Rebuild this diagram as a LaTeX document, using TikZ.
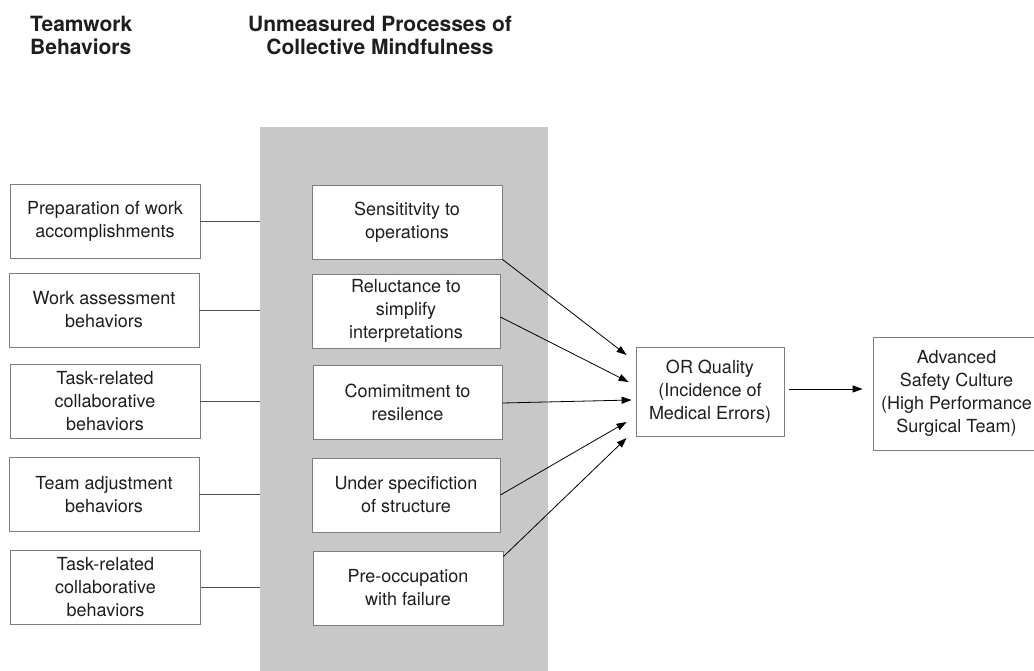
\documentclass[tikz,border=0pt]{standalone}
\usepackage{fontspec}
\setmainfont{TeX Gyre Heros}
\usepackage{tikz}
\usetikzlibrary{calc}
\usetikzlibrary{positioning}
\usetikzlibrary{arrows.meta}

\definecolor{bandgray}{RGB}{200,200,200}
\definecolor{framegray}{RGB}{125,125,125}
\definecolor{inkgray}{RGB}{30,30,30}

\tikzset{
  factor/.style={draw=framegray,fill=white,text=inkgray,align=center,
    minimum width=190pt,minimum height=74pt,inner sep=2pt,line width=0.8pt,
    font=\fontsize{18}{23}\selectfont},
  heading/.style={font=\fontsize{21}{23}\selectfont\bfseries,text=inkgray,inner sep=0pt},
  link/.style={draw=black!70,line width=0.8pt},
  feed/.style={draw=black,line width=0.8pt,-{Triangle[length=10pt,width=7pt]}}
}

\begin{document}
\begin{tikzpicture}[x=1pt,y=-1pt]
      \useasboundingbox (0,0) rectangle (1034,670);

      \node[heading,anchor=north west,align=left] (hteam) at (30,16) {Teamwork\\Behaviors};
      \node[heading,anchor=north,align=center] (hmind) at (380,16) {Unmeasured Processes of\\Collective Mindfulness};

      \fill[bandgray] (260,127) rectangle (548,672);
      \coordinate (bandedge) at (260,127);

      % teamwork behaviors
      \node[factor] (t1) at (105,221) {Preparation of work\\accomplishments};
      \node[factor] (t2) at (104,310) {Work assessment\\behaviors};
      \node[factor] (t3) at (105,401) {Task-related\\collaborative\\behaviors};
      \node[factor] (t4) at (104,494.5) {Team adjustment\\behaviors};
      \node[factor] (t5) at (105.5,587) {Task-related\\collaborative\\behaviors};

      % mindfulness processes
      \node[factor] (m1) at (407,222) {Sensititvity to\\operations};
      \node[factor,minimum width=188pt] (m2) at (406,311) {Reluctance to\\simplify\\interpretations};
      \node[factor,minimum width=189pt] (m3) at (407.5,402) {Comimitment to\\resilence};
      \node[factor,minimum width=188pt] (m4) at (406,495) {Under specifiction\\of structure};
      \node[factor] (m5) at (408,588) {Pre-occupation\\with failure};

      \node[factor,minimum width=148pt,minimum height=89pt] (orq) at (710,391.5) {OR Quality\\(Incidence of\\Medical Errors)};
      \node[factor,minimum width=167pt,minimum height=113pt] (safety) at (956.5,393.5) {Advanced\\Safety Culture\\(High Performance\\Surgical Team)};

      \draw[link] (t1.east) -- (t1.east -| bandedge);
      \draw[link] (t2.east) -- (t2.east -| bandedge);
      \draw[link] (t3.east) -- (t3.east -| bandedge);
      \draw[link] (t4.east) -- (t4.east -| bandedge);
      \draw[link] (t5.east) -- (t5.east -| bandedge);

      \coordinate (in1) at ($(orq.west)+(-9,-36.5)$);
      \coordinate (in2) at ($(orq.west)+(-7,-9.5)$);
      \coordinate (in3) at ($(orq.west)+(-4,8.5)$);
      \coordinate (in4) at ($(orq.west)+(-9,30.5)$);
      \coordinate (in5) at ($(orq.west)+(-9,46.5)$);

      \draw[feed] (m1.south east) -- (in1);
      \draw[feed] ([yshift=-6pt]m2.east) -- (in2);
      \draw[feed] ([yshift=-1pt]m3.east) -- (in3);
      \draw[feed] (m4.east) -- (in4);
      \draw[feed] ([yshift=-6pt]m5.north east) -- (in5);

      \draw[feed] ([xshift=5pt,yshift=2.5pt]orq.east) -- ([xshift=-10pt,yshift=2.5pt]orq.east -| safety.west);
\end{tikzpicture}
\end{document}
